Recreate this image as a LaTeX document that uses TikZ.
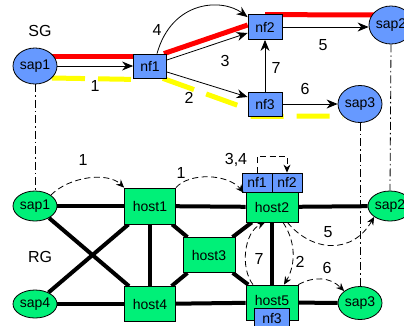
\documentclass[tikz,border=0pt]{standalone}
\usepackage{fontspec}
\setmainfont{Liberation Sans}
\usetikzlibrary{arrows.meta,calc,backgrounds,shapes.geometric}
\definecolor{nfblue}{RGB}{102,153,255}
\definecolor{hgreen}{RGB}{0,240,120}
\definecolor{yel}{RGB}{255,255,0}
\begin{document}
\begin{tikzpicture}[x=1pt,y=-1pt,
  nodefont/.style={font=\fontsize{14}{14}\selectfont},
  sgsap/.style={ellipse,draw,line width=0.8pt,fill=nfblue,inner sep=0pt,minimum width=44pt,minimum height=36pt,nodefont},
  sgnf/.style={rectangle,draw,line width=0.8pt,fill=nfblue,inner sep=0pt,minimum width=33pt,minimum height=24pt,nodefont},
  rgsap/.style={ellipse,draw,line width=0.8pt,fill=hgreen,inner sep=0pt,minimum width=44pt,minimum height=30pt,nodefont},
  host/.style={rectangle,draw,line width=0.8pt,fill=hgreen,inner sep=0pt,minimum width=52pt,minimum height=36pt,nodefont},
  rgnf/.style={rectangle,draw,line width=0.8pt,fill=nfblue,inner sep=0pt,minimum width=30pt,minimum height=19pt,nodefont},
  lbl/.style={font=\fontsize{16}{16}\selectfont,inner sep=0pt},
  arr/.style={line width=0.8pt,-{Stealth[length=11pt,width=9pt]}},
  darr/.style={line width=0.8pt,dash pattern=on 6pt off 3.5pt,-{Stealth[length=8pt,width=7pt]}},
  redline/.style={line width=5pt,red},
  yelline/.style={line width=5pt,yel,dash pattern=on 33pt off 13pt},
  link/.style={line width=4pt},
  dashdot/.style={line width=0.8pt,dash pattern=on 8pt off 3pt on 1.5pt off 3pt}
]
\useasboundingbox (0,0) rectangle (404,325);

% ---------- SG nodes ----------
\node[sgsap] (sap1) at (35,66) {sap1};
\node[sgnf] (nf1) at (150,66) {nf1};
\node[sgnf,minimum width=34pt,minimum height=25pt] (nf2) at (265,27) {nf2};
\node[sgnf,minimum width=34pt] (nf3) at (265,104) {nf3};
\node[sgsap,minimum height=38pt] (sap2) at (391,25) {sap2};
\node[sgsap,minimum height=37pt] (sap3) at (360,104) {sap3};
\node[lbl] (sg) at (40,31) {SG};

% ---------- RG nodes ----------
\node[rgsap] (rsap1) at (35,206) {sap1};
\node[rgsap,minimum height=28pt] (rsap4) at (35,304) {sap4};
\node[rgsap] (rsap2) at (390,206) {sap2};
\node[rgsap,minimum height=33pt] (rsap3) at (360,303) {sap3};
\node[host,minimum width=51pt] (host1) at (150,206) {host1};
\node[host,minimum width=51pt,minimum height=35pt] (host4) at (150,304) {host4};
\node[host,minimum height=35pt] (host3) at (209,255) {host3};
\node[host,minimum height=30pt] (host2) at (272,207) {host2};
\node[host,minimum height=35pt] (host5) at (272,302.5) {\raisebox{5pt}{host5}};
\node[rgnf] (rnf1) at (257,182.5) {nf1};
\node[rgnf] (rnf2) at (287,182.5) {nf2};
\node[rgnf,minimum width=35pt,minimum height=20pt] (rnf3) at (272,318) {nf3};
\node[lbl] (rg) at (40,257) {RG};

% ---------- background lines ----------
\begin{scope}[on background layer]
  \draw[redline] ($(sap1)+(0,-10)$) -- ($(nf1.west)+(0,-10)$);
  \draw[redline] ($(nf1.north east)+(-3,0)$) -- ($(nf2.west)+(0,-2)$);
  \draw[redline] ($(nf2.north)+(0,0.5)$) -- ($(sap2)+(-10,-10)$);
  \draw[yelline] ($(sap1)+(17,12)$) -- ($(nf1.south west)+(0,1)$);
  \draw[yelline] ($(nf1.south east)+(-4,0)$) -- ($(nf3.west)+(-8,2)$);
  \draw[yelline] ($(nf3.south west)+(3,0)$) -- ($(sap3)+(-17,12)$);
  % RG links
  \draw[link] (rsap1) -- (host1);
  \draw[link] (host1) -- (host2);
  \draw[link] (host2) -- (rsap2);
  \draw[link] (rsap4) -- (host4);
  \draw[link] (host4) -- (host5);
  \draw[link] (host5) -- (rsap3);
  \draw[link] (rsap1) -- (host4);
  \draw[link] (rsap4) -- (host1);
  \draw[link] (host1) -- (host4);
  \draw[link] (host1) -- (host3);
  \draw[link] (host4) -- (host3);
  \draw[link] (host2) -- (host3);
  \draw[link] (host5) -- (host3);
  \draw[link] (host2) -- (host5);
\end{scope}

% ---------- SG arrows ----------
\draw[arr] (sap1.east) -- (nf1.west);
\draw[arr] ($(nf1.east)+(0,-6)$) -- ($(nf2.west)+(0,6)$);
\draw[arr] ($(nf1.east)+(0,6)$) -- ($(nf3.west)+(0,-7)$);
\draw[arr] (nf3.north) -- (nf2.south);
\draw[arr] (nf2.east) -- (nf2.east -| sap2.west);
\draw[arr] (nf3.east) -- (sap3.west);
\draw[arr] ($(nf1.north)+(7,0)$) .. controls (172,0) and (222,-2) .. ($(nf2.north west)+(0,3)$);

\node[lbl] (l1) at (95,86) {1};
\node[lbl] (l2) at (189,98) {2};
\node[lbl] (l3) at (225,61) {3};
\node[lbl] (l4) at (157,30) {4};
\node[lbl] (l5) at (323,45) {5};
\node[lbl] (l6) at (305,89) {6};
\node[lbl] (l7) at (276,68) {7};

% ---------- dash-dot mapping ----------
\draw[dashdot] (sap1.south) -- (rsap1.north);
\draw[dashdot] (sap2.south) -- (rsap2.north);
\draw[dashdot] (sap3.south) -- (rsap3.north);

% ---------- RG dashed arrows ----------
\draw[darr] (rsap1.north east) .. controls (70,176) and (108,172) .. (host1.north west);
\draw[darr] (host1.north east) .. controls (190,172) and (228,174) .. ($(host2.north west)+(-2,1)$);
\draw[darr] (rnf1.north) -- ++(0,-16) -| (rnf2.north);
\draw[darr] ($(host2.south)+(11,0)$) .. controls (298,245) and (294,268) .. ($(host5.north)+(12,0)$);
\draw[darr] ($(host5.north)+(-19,0)$) .. controls (240,268) and (244,232) .. ($(host2.south)+(-7,0)$);
\draw[darr] ($(host2.south east)+(-11,0)$) .. controls (312,252) and (352,255) .. (rsap2.south west);
\draw[darr] (host5.north east) .. controls (314,276) and (330,277) .. (rsap3.north west);

\node[lbl] (r1a) at (83,160) {1};
\node[lbl] (r1b) at (181,173) {1};
\node[lbl] (r34) at (236,160) {3,4};
\node[lbl] (r2) at (300,262) {2};
\node[lbl] (r7) at (259,259) {7};
\node[lbl] (r5) at (328,232) {5};
\node[lbl] (r6) at (327,268) {6};
\end{tikzpicture}
\end{document}
